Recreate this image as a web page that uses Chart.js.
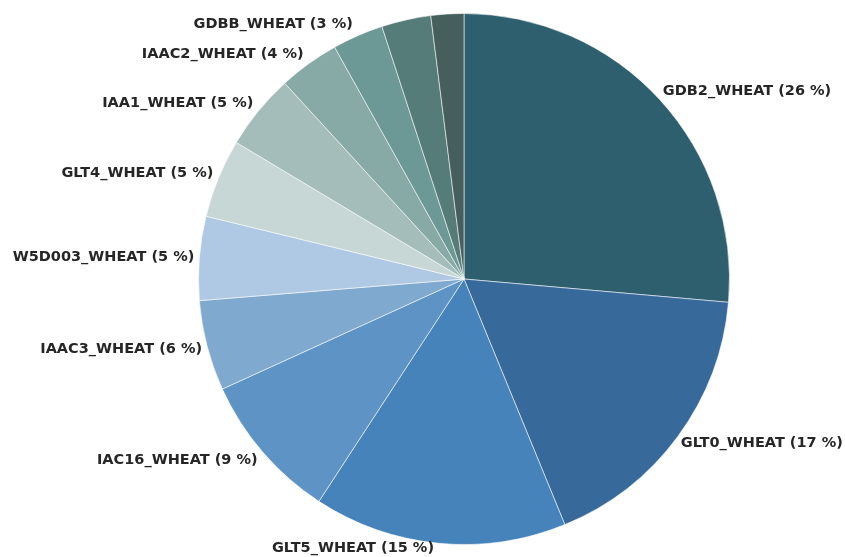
<!DOCTYPE html>
<html>
<head>
<meta charset="utf-8">
<script src="https://cdn.jsdelivr.net/npm/chart.js@4"></script>
<style>
    html, body { margin: 0; padding: 0; background: #fff; }
    #wrap { width: 845px; height: 557px; position: relative; }
</style>
</head>
<body>
<div id="wrap"><canvas id="pie" width="845" height="557"></canvas></div>
<script>
// slice names, clockwise from 12 o'clock
const names = [
    "GDB2_WHEAT", "GLT0_WHEAT", "GLT5_WHEAT", "IAC16_WHEAT", "IAAC3_WHEAT", "W5D003_WHEAT",
    "GLT4_WHEAT", "IAA1_WHEAT", "IAAC2_WHEAT", "GDBB_WHEAT", "", ""
];
// share of the whole, in %
const shares = [26.4, 17.4, 15.4, 9.0, 5.5, 5.1, 4.8, 4.6, 3.7, 3.1, 3.0, 2.0];
const colors = [
    "#2d5f6f", "#376a9b", "#4683ba", "#5d93c5", "#80a9d0", "#afc8e3",
    "#c6d7d5", "#a4bdbb", "#87aaa7", "#6c9995", "#567c79", "#465f5d"
];

// outside labels, placed at the middle of each slice
const sliceLabels = {
    id: "sliceLabels",
    afterDraw(chart) {
        const ctx = chart.ctx;
        const arcs = chart.getDatasetMeta(0).data;
        ctx.save();
        ctx.font = "bold 14.5px 'DejaVu Sans'";
        ctx.fillStyle = "#262626";
        ctx.textBaseline = "middle";
        arcs.forEach((arc, i) => {
            if (!names[i]) return;
            const {startAngle, endAngle, outerRadius, x, y} = arc.getProps(["startAngle", "endAngle", "outerRadius", "x", "y"]);
            const mid = (startAngle + endAngle) / 2;
            // keep the bottom label inside the canvas
            const ly = Math.min(y + Math.sin(mid) * outerRadius * 1.045, y + outerRadius + 4);
            const ex = x + Math.cos(mid) * outerRadius;
            const text = names[i] + " (" + Math.round(shares[i]) + " %)";
            if (Math.cos(mid) >= 0) {
                ctx.textAlign = "left";
                ctx.fillText(text, ex + 3, ly);
            } else {
                ctx.textAlign = "right";
                ctx.fillText(text, ex - 5, ly);
            }
        });
        ctx.restore();
    }
};

new Chart(document.getElementById("pie"), {
    type: "pie",
    data: {
        labels: names,
        datasets: [{
            data: shares,
            backgroundColor: colors,
            borderColor: "rgba(255,255,255,0.55)",
            borderWidth: 1,
            hoverOffset: 0
        }]
    },
    options: {
        responsive: false,
        animation: false,
        layout: {
            padding: {top: 13, bottom: 12, left: 198, right: 115}
        },
        plugins: {
            legend: {display: false},
            tooltip: {enabled: false}
        }
    },
    plugins: [sliceLabels]
});
</script>
</body>
</html>
